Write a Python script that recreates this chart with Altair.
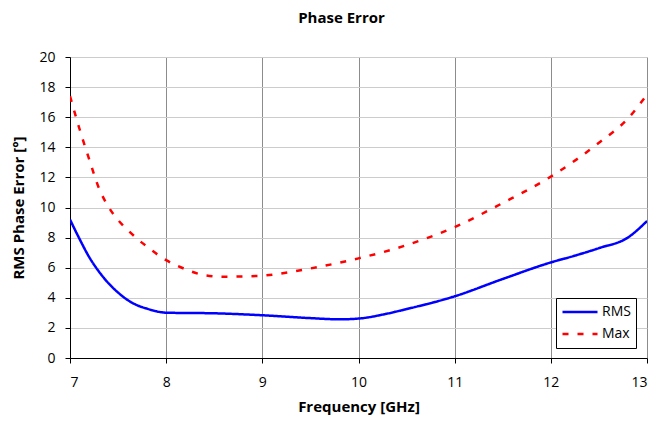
import altair as alt
import pandas as pd

rms_freq = [7.0, 7.1, 7.2, 7.3, 7.4, 7.5, 7.6, 7.7, 7.8, 7.9, 8.0, 8.5, 9.0, 9.5, 9.8, 10.0, 10.3, 10.5, 11.0, 11.5, 12.0, 12.25, 12.5, 12.8, 13.0]
rms_vals = [9.2, 7.9, 6.7, 5.75, 4.97, 4.35, 3.85, 3.5, 3.28, 3.1, 3.01, 2.97, 2.84, 2.65, 2.57, 2.62, 2.95, 3.25, 4.1, 5.25, 6.35, 6.8, 7.3, 8.0, 9.1]

max_freq = [7.0, 7.1, 7.2, 7.3, 7.4, 7.5, 7.6, 7.8, 8.0, 8.2, 8.4, 8.6, 8.8, 9.0, 9.5, 10.0, 10.5, 11.0, 11.5, 12.0, 12.5, 12.8, 13.0]
max_vals = [17.4, 15.2, 13.2, 11.3, 10.05, 9.17, 8.5, 7.4, 6.5, 5.9, 5.5, 5.4, 5.42, 5.47, 5.95, 6.62, 7.5, 8.7, 10.3, 12.05, 14.3, 15.9, 17.5]

series_names = ["RMS", "Max"]

rows = []
for f, v in zip(rms_freq, rms_vals):
    rows.append({"freq": f, "val": v, "series": "RMS"})
for f, v in zip(max_freq, max_vals):
    rows.append({"freq": f, "val": v, "series": "Max"})
df = pd.DataFrame(rows)

FONT = "Open Sans"
axis_common = dict(
    labelFont=FONT, labelFontSize=14, labelColor="#000000",
    titleFont=FONT, titleFontSize=15, titleFontWeight="bold", titleColor="#000000",
    domainColor="#000000", tickColor="#000000", tickSize=5,
    gridWidth=1,
)

chart = alt.Chart(df).mark_line(strokeWidth=2.5, interpolate="monotone", clip=True).encode(
    x=alt.X("freq:Q", title="Frequency [GHz]",
            scale=alt.Scale(domain=[7, 13], nice=False, zero=False),
            axis=alt.Axis(values=[7, 8, 9, 10, 11, 12, 13], format="d",
                          gridColor="#8c8c8c", labelPadding=12, titlePadding=10, **axis_common)),
    y=alt.Y("val:Q", title="RMS Phase Error [°]",
            scale=alt.Scale(domain=[0, 20], nice=False),
            axis=alt.Axis(values=list(range(0, 21, 2)), gridColor="#cccccc",
                          labelPadding=10, titlePadding=12, **axis_common)),
    color=alt.Color("series:N", sort=series_names,
                    scale=alt.Scale(domain=series_names, range=["#0000ff", "#ff0000"]),
                    legend=alt.Legend(title=None, orient="none", legendX=486, legendY=241,
                                      symbolType="stroke", symbolStrokeWidth=2.5,
                                      symbolSize=1225, clipHeight=18,
                                      labelFontSize=14, labelFont=FONT,
                                      labelColor="#000000", labelOffset=3,
                                      strokeColor="#000000", fillColor="#ffffff",
                                      padding=5, rowPadding=4, labelLimit=100)),
    strokeDash=alt.StrokeDash("series:N", sort=series_names,
                              scale=alt.Scale(domain=series_names, range=[[1, 0], [6, 9]]),
                              legend=None),
).properties(
    width=577, height=301,
    title=alt.Title("Phase Error", font=FONT, fontSize=15, fontWeight="bold",
                    anchor="middle", frame="group", offset=24, dx=-17, color="#000000"),
    autosize=alt.AutoSizeParams(type="none"),
    padding={"left": 62, "top": 49, "right": 2, "bottom": 58},
).configure_view(
    stroke="#000000", strokeWidth=1
).configure(background="#ffffff")

chart.save("out.html", embed_options={"renderer": "svg", "actions": False})
